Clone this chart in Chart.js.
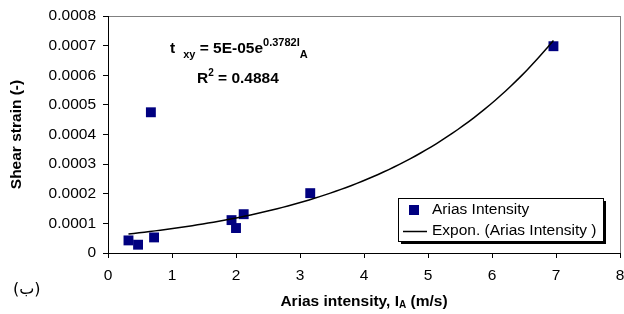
<!DOCTYPE html>
<html>
<head>
<meta charset="utf-8">
<script src="https://cdn.jsdelivr.net/npm/chart.js@4.4.1/dist/chart.umd.min.js"></script>
<style>
  html, body { margin: 0; padding: 0; background: #fff; }
</style>
</head>
<body>
<canvas id="myChart" width="624" height="314"></canvas>
<script>
// data
const ariasIntensity = [0.32, 0.47, 0.67, 0.72, 1.93, 2.0, 2.12, 3.16, 6.96];
const shearStrain = [0.0000425, 0.000028, 0.000475, 0.0000526, 0.000111, 0.0000843, 0.000131, 0.000202, 0.000698];
const xTickLabels = ["0", "1", "2", "3", "4", "5", "6", "7", "8"];
const yTickLabels = ["0", "0.0001", "0.0002", "0.0003", "0.0004", "0.0005", "0.0006", "0.0007", "0.0008"];
const seriesLabels = ["Arias Intensity", "Expon. (Arias Intensity )"];

const FONT = "'Liberation Sans', Arial, sans-serif";
const NAVY = "#000080";

// exponential trend line, least squares on ln(y) like Excel does
function expFit(xs, ys) {
  const n = xs.length;
  const ly = ys.map(Math.log);
  const mx = xs.reduce((a, b) => a + b, 0) / n;
  const my = ly.reduce((a, b) => a + b, 0) / n;
  let sxy = 0, sxx = 0;
  xs.forEach((x, i) => {
    sxy += (x - mx) * (ly[i] - my);
    sxx += (x - mx) * (x - mx);
  });
  const b = sxy / sxx;
  return { a: Math.exp(my - b * mx), b: b };
}

const fit = expFit(ariasIntensity, shearStrain);
const xMin = Math.min(...ariasIntensity);
const xMax = Math.max(...ariasIntensity);
const trend = [];
for (let i = 0; i <= 80; i++) {
  const x = xMin + (xMax - xMin) * i / 80;
  trend.push({ x: x, y: fit.a * Math.exp(fit.b * x) });
}

const points = ariasIntensity.map((x, i) => ({ x: x, y: shearStrain[i] }));

function drawRuns(ctx, x, y, runs) {
  runs.forEach(r => {
    ctx.font = r.font;
    x += r.dx || 0;
    ctx.fillText(r.t, x, y + (r.dy || 0));
    x += ctx.measureText(r.t).width;
  });
  return x;
}

function runsWidth(ctx, runs) {
  let w = 0;
  runs.forEach(r => {
    ctx.font = r.font;
    w += (r.dx || 0) + ctx.measureText(r.t).width;
  });
  return w;
}

const decor = {
  id: "decor",
  beforeDraw(chart) {
    const { ctx, chartArea: a } = chart;
    ctx.save();
    ctx.fillStyle = "#fff";
    ctx.fillRect(0, 0, chart.width, chart.height);
    ctx.strokeStyle = "#808080";
    ctx.lineWidth = 1;
    ctx.strokeRect(a.left + 0.5, a.top + 0.5, a.right - a.left, a.bottom - a.top);
    ctx.restore();
  },
  afterDraw(chart) {
    const { ctx, chartArea: a } = chart;
    const B = "bold 15.5px " + FONT;
    const Bs = "bold 11px " + FONT;
    const R = "15.5px " + FONT;
    ctx.save();
    ctx.fillStyle = "#000";
    ctx.textAlign = "left";
    ctx.textBaseline = "alphabetic";

    // equation and R squared
    drawRuns(ctx, 170, 53, [
      { t: "t", font: B },
      { t: "xy", font: Bs, dy: 5, dx: 8 },
      { t: " = 5E-05e", font: B },
      { t: "0.3782I", font: Bs, dy: -7 },
      { t: "A", font: Bs, dy: 5 }
    ]);
    drawRuns(ctx, 197, 83, [
      { t: "R", font: B },
      { t: "2", font: "bold 10px " + FONT, dy: -7 },
      { t: " = 0.4884", font: B }
    ]);

    // x axis title
    const xt = [
      { t: "Arias intensity, I", font: B },
      { t: "A", font: "bold 10px " + FONT, dy: 2 },
      { t: " (m/s)", font: B }
    ];
    const cx = (a.left + a.right) / 2;
    drawRuns(ctx, cx - runsWidth(ctx, xt) / 2, 306, xt);

    // y axis title
    ctx.save();
    ctx.translate(17, (a.top + a.bottom) / 2);
    ctx.rotate(-Math.PI / 2);
    ctx.font = B;
    ctx.textAlign = "center";
    ctx.textBaseline = "middle";
    ctx.fillText("Shear strain (-)", 0, 0);
    ctx.restore();

    // panel mark
    ctx.font = "16px 'DejaVu Sans', " + FONT;
    ctx.fillText("(ب)", 13, 294);

    // legend with shadow
    const lx = 398, ly = 198, lw = 205, lh = 43;
    ctx.fillStyle = "#000";
    ctx.fillRect(lx + 3, ly + 3, lw, lh);
    ctx.fillStyle = "#fff";
    ctx.fillRect(lx, ly, lw, lh);
    ctx.strokeStyle = "#000";
    ctx.lineWidth = 1;
    ctx.strokeRect(lx + 0.5, ly + 0.5, lw, lh);

    ctx.fillStyle = NAVY;
    ctx.fillRect(409, 205, 10, 10);
    ctx.strokeStyle = "#000";
    ctx.lineWidth = 1.5;
    ctx.beginPath();
    ctx.moveTo(403, 231.5);
    ctx.lineTo(427, 231.5);
    ctx.stroke();

    ctx.fillStyle = "#000";
    ctx.font = R;
    ctx.textBaseline = "middle";
    const ds = chart.data.datasets;
    ctx.fillText(ds[0].label, 432, 210);
    ctx.fillText(ds[1].label, 432, 231);
    ctx.restore();
  }
};

new Chart("myChart", {
  type: "scatter",
  data: {
    datasets: [{
      label: seriesLabels[0],
      data: points,
      pointStyle: "rect",
      pointRadius: 7,
      pointHoverRadius: 7,
      backgroundColor: NAVY,
      borderColor: NAVY,
      borderWidth: 0,
      order: 1
    }, {
      label: seriesLabels[1],
      type: "line",
      data: trend,
      borderColor: "#000",
      borderWidth: 1.5,
      pointRadius: 0,
      fill: false,
      tension: 0,
      order: 0
    }]
  },
  options: {
    responsive: false,
    animation: false,
    layout: { autoPadding: false, padding: { left: 0, right: 4, top: 16, bottom: 0 } },
    plugins: {
      legend: { display: false },
      tooltip: { enabled: false }
    },
    scales: {
      x: {
        type: "linear",
        min: 0,
        max: 8,
        ticks: {
          stepSize: 1,
          padding: 8,
          color: "#000",
          font: { family: FONT, size: 15.5 },
          callback: (v, i) => xTickLabels[i]
        },
        grid: { drawOnChartArea: false, drawTicks: true, tickLength: 5, color: "#000" },
        border: { color: "#000", width: 1 },
        afterFit: s => { s.height = 61; s.paddingLeft = 0; s.paddingRight = 0; }
      },
      y: {
        min: 0,
        max: 0.0008,
        ticks: {
          stepSize: 0.0001,
          padding: 7,
          color: "#000",
          font: { family: FONT, size: 15.5 },
          callback: (v, i) => yTickLabels[i]
        },
        grid: { drawOnChartArea: false, drawTicks: true, tickLength: 5, color: "#000" },
        border: { color: "#000", width: 1 },
        afterFit: s => { s.width = 108; s.paddingTop = 0; s.paddingBottom = 0; }
      }
    }
  },
  plugins: [decor]
});
</script>
</body>
</html>
